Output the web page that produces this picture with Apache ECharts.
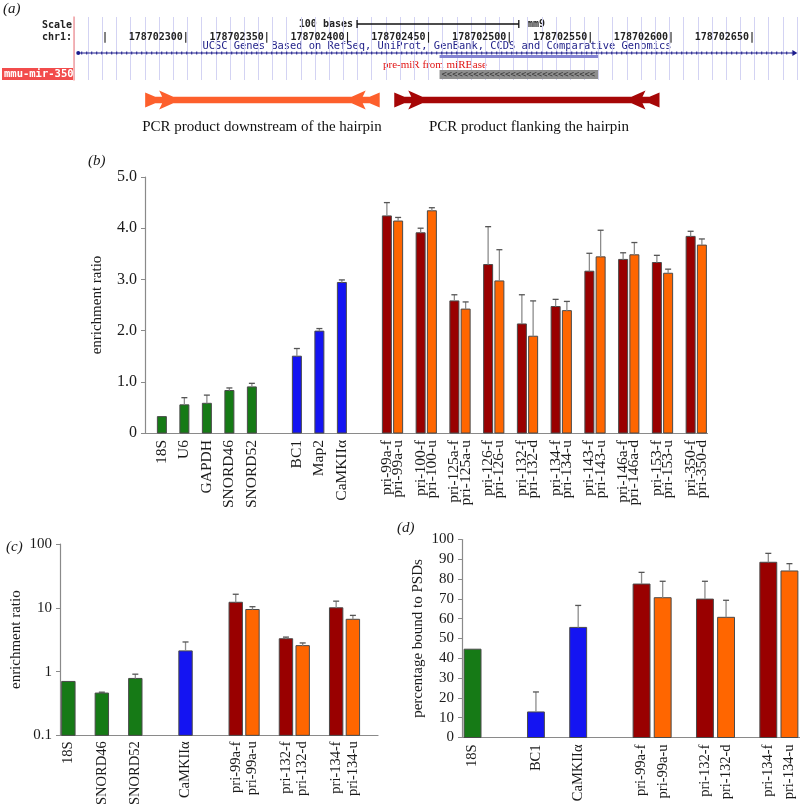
<!DOCTYPE html>
<html>
<head>
<meta charset="utf-8">
<script src="https://cdn.jsdelivr.net/npm/echarts@6/dist/echarts.min.js"></script>
<style>
  html, body { margin: 0; padding: 0; background: #fff; }
  #chart { width: 800px; height: 808px; }
</style>
</head>
<body>
<div id="chart"></div>
<script>
"use strict";

// (a) genome browser window, mm9 chr1
const genomeMin = 178702229;
const genomeMax = 178702676;
const scaleBar = [178702404, 178702504];
const geneSpan = [178702231, 178702675];
const hairpin = [178702455, 178702553];
const pcrProducts = [
  [178702273, 178702418, 0],   // downstream of the hairpin
  [178702427, 178702591, 1]    // flanking the hairpin
];
const pcrNames = ['PCR product downstream of the hairpin', 'PCR product flanking the hairpin'];

// (b) enrichment ratio
const bLabels = ['18S', 'U6', 'GAPDH', 'SNORD46', 'SNORD52', 'BC1', 'Map2', 'CaMKIIα',
  'pri-99a-f', 'pri-99a-u', 'pri-100-f', 'pri-100-u', 'pri-125a-f', 'pri-125a-u',
  'pri-126-f', 'pri-126-u', 'pri-132-f', 'pri-132-d', 'pri-134-f', 'pri-134-u',
  'pri-143-f', 'pri-143-u', 'pri-146a-f', 'pri-146a-d', 'pri-153-f', 'pri-153-u',
  'pri-350-f', 'pri-350-d'];
const bGroups = ['ctl', 'ctl', 'ctl', 'ctl', 'ctl', 'neu', 'neu', 'neu',
  'f', 'u', 'f', 'u', 'f', 'u', 'f', 'u', 'f', 'u', 'f', 'u', 'f', 'u', 'f', 'u', 'f', 'u', 'f', 'u'];
const bValues = [0.32, 0.55, 0.58, 0.83, 0.90, 1.50, 1.99, 2.94,
  4.24, 4.14, 3.91, 4.34, 2.58, 2.42, 3.29, 2.97, 2.13, 1.89, 2.47, 2.39,
  3.16, 3.44, 3.39, 3.48, 3.33, 3.12, 3.84, 3.67];
const bErrors = [0, 0.14, 0.16, 0.05, 0.07, 0.15, 0.05, 0.05,
  0.26, 0.07, 0.09, 0.06, 0.12, 0.14, 0.74, 0.61, 0.57, 0.69, 0.14, 0.18,
  0.35, 0.52, 0.13, 0.24, 0.14, 0.08, 0.10, 0.12];
const bTicks = [0, 1, 2, 3, 4, 5];

// (c) enrichment ratio, log scale
const cLabels = ['18S', 'SNORD46', 'SNORD52', 'CaMKIIα', 'pri-99a-f', 'pri-99a-u',
  'pri-132-f', 'pri-132-d', 'pri-134-f', 'pri-134-u'];
const cGroups = ['ctl', 'ctl', 'ctl', 'neu', 'f', 'u', 'f', 'u', 'f', 'u'];
const cValues = [0.70, 0.46, 0.78, 2.11, 12.2, 9.4, 3.27, 2.55, 10.0, 6.6];
const cErrors = [0, 0.015, 0.13, 0.8, 4.1, 1.0, 0.2, 0.26, 2.7, 1.0];

// (d) percentage bound to PSDs
const dLabels = ['18S', 'BC1', 'CaMKIIα', 'pri-99a-f', 'pri-99a-u', 'pri-132-f', 'pri-132-d', 'pri-134-f', 'pri-134-u'];
const dGroups = ['ctl', 'neu', 'neu', 'f', 'u', 'f', 'u', 'f', 'u'];
const dValues = [44.6, 12.9, 55.6, 77.5, 70.6, 69.9, 60.7, 88.5, 84.1];
const dErrors = [0, 10.1, 11.1, 5.9, 8.3, 9.0, 8.6, 4.5, 3.7];

const groupIdx = { ctl: 0, neu: 1, f: 2, u: 3 };
const barColors = ['#167a16', '#1414f2', '#990000', '#ff6600'];
const arrowColors = ['#fd5f2c', '#a60606'];
const serif = 'Liberation Serif';
const mono = 'DejaVu Sans Mono';

// slot positions on the category axis: pairs touch, groups get a gap
function layoutSlots(groups, start, groupGap) {
  const fam = g => (g === 'f' || g === 'u') ? 'pri' : g;
  const slots = [start];
  for (let i = 1; i < groups.length; i++) {
    const p = groups[i - 1], c = groups[i];
    let step = 2;
    if (fam(p) !== fam(c)) step = groupGap;
    else if (p === 'f' && c === 'u') step = 1;
    slots.push(slots[i - 1] + step);
  }
  return slots;
}
function buildPanel(labels, groups, values, errors, start, groupGap, trailing) {
  const slots = layoutSlots(groups, start, groupGap);
  const n = slots[slots.length - 1] + 1 + trailing;
  const cats = new Array(n).fill('');
  slots.forEach((s, i) => { cats[s] = labels[i]; });
  const data = slots.map((s, i) => [s, values[i], errors[i], groupIdx[groups[i]]]);
  return { cats, data };
}
const panelB = buildPanel(bLabels, bGroups, bValues, bErrors, 1, 4, 0);
const panelC = buildPanel(cLabels, cGroups, cValues, cErrors, 0, 3, 1);
const panelD = buildPanel(dLabels, dGroups, dValues, dErrors, 0, 3, 0);

function barRenderer(base) {
  return function (params, api) {
    const slot = api.value(0), v = api.value(1), e = api.value(2), g = api.value(3);
    const bw = api.size([1, 0])[0] * 0.8;
    const p0 = api.coord([slot, base]);
    const p1 = api.coord([slot, v]);
    const children = [{
      type: 'rect',
      shape: { x: p1[0] - bw / 2, y: p1[1], width: bw, height: p0[1] - p1[1] },
      style: { fill: barColors[g], stroke: '#4a4a4a', lineWidth: 1 }
    }];
    if (e > 0) {
      const p2 = api.coord([slot, v + e]);
      children.push({ type: 'line', shape: { x1: p1[0], y1: p1[1], x2: p2[0], y2: p2[1] },
        style: { stroke: '#8c8c8c', lineWidth: 1.3 } });
      children.push({ type: 'line', shape: { x1: p2[0] - 3, y1: p2[1], x2: p2[0] + 3, y2: p2[1] },
        style: { stroke: '#555', lineWidth: 1.3 } });
    }
    return { type: 'group', children };
  };
}

function catAxis(gridIndex, cats, fontSize, margin) {
  return {
    type: 'category', gridIndex, data: cats,
    axisLine: { lineStyle: { color: '#8a8a8a', width: 1.2 } },
    axisTick: { show: false },
    axisLabel: { interval: 0, rotate: 90, margin, fontFamily: serif, fontSize, color: '#1a1a1a' },
    splitLine: { show: false }
  };
}
function valAxis(gridIndex, extra) {
  return Object.assign({
    gridIndex,
    nameLocation: 'middle',
    nameTextStyle: { fontFamily: serif, fontSize: 15, color: '#1a1a1a' },
    axisLine: { show: true, lineStyle: { color: '#8a8a8a', width: 1.2 } },
    axisTick: { show: true, length: 4, lineStyle: { color: '#8a8a8a' } },
    axisLabel: { fontFamily: serif, fontSize: 15, color: '#1a1a1a', margin: 8 },
    splitLine: { show: false }
  }, extra);
}

// lanes of the browser image (rows from its top edge)
const laneScale = 7, laneGene = 36, laneBlue = [38, 41], laneGrey = [53, 62];

const chart = echarts.init(document.getElementById('chart'), null, { renderer: 'canvas' });

const option = {
  animation: false,
  backgroundColor: '#fff',
  grid: [
    { left: 74, top: 17, width: 723, height: 63 },     // browser tracks
    { left: 74, top: 17, width: 723, height: 14 },     // coordinate labels
    { left: 74, top: 85, width: 723, height: 30 },     // PCR arrows
    { left: 145, top: 177, width: 562.5, height: 256 },
    { left: 60, top: 544, width: 318, height: 193.5 },
    { left: 462, top: 539.5, width: 338, height: 198 }
  ],
  xAxis: [
    { type: 'value', gridIndex: 0, min: genomeMin, max: genomeMax, show: false },
    { type: 'value', gridIndex: 0, min: 0, max: 51, interval: 1,
      axisLine: { show: false }, axisTick: { show: false }, axisLabel: { show: false },
      splitLine: { show: true, lineStyle: { color: '#d3d3f3', width: 1 } } },
    { type: 'value', gridIndex: 1, min: genomeMin, max: genomeMax, minInterval: 50, maxInterval: 50,
      axisLine: { show: false }, axisTick: { show: false }, splitLine: { show: false },
      axisLabel: {
        margin: 1, align: 'right', fontFamily: mono, fontSize: 10, fontWeight: 'bold', color: '#222',
        formatter: v => {
          const r = Math.round(v);
          if (r % 50 !== 0) return '';
          return (r - genomeMin < 40) ? '|' : r + '|';
        }
      } },
    { type: 'value', gridIndex: 2, min: genomeMin, max: genomeMax, show: false },
    catAxis(3, panelB.cats, 15.5, 7),
    catAxis(4, panelC.cats, 14.5, 6),
    catAxis(5, panelD.cats, 14.5, 7)
  ],
  yAxis: [
    { type: 'value', gridIndex: 0, min: 0, max: 63, inverse: true,
      axisLine: { show: true, lineStyle: { color: '#f4a0a0', width: 1.5 } },
      axisTick: { show: false }, axisLabel: { show: false }, splitLine: { show: false } },
    { type: 'value', gridIndex: 1, show: false },
    { type: 'value', gridIndex: 2, min: 0, max: 1, show: false },
    valAxis(3, { type: 'value', min: bTicks[0], max: bTicks[bTicks.length - 1], interval: 1,
      name: 'enrichment ratio', nameGap: 40,
      axisLabel: { fontFamily: serif, fontSize: 16, color: '#1a1a1a', margin: 8,
        formatter: v => v === 0 ? '0' : v.toFixed(1) } }),
    valAxis(4, { type: 'log', logBase: 10, min: 0.1, max: 100,
      name: 'enrichment ratio', nameGap: 36,
      axisLabel: { fontFamily: serif, fontSize: 15, color: '#1a1a1a', margin: 8,
        formatter: v => String(+v.toPrecision(3)) } }),
    valAxis(5, { type: 'value', min: 0, max: 100, interval: 10,
      name: 'percentage bound to PSDs', nameGap: 36 })
  ],
  series: [
    { // scale bar
      type: 'custom', xAxisIndex: 0, yAxisIndex: 0, data: [scaleBar],
      renderItem: (params, api) => {
        const a = api.coord([api.value(0), laneScale]);
        const b = api.coord([api.value(1), laneScale]);
        const st = { stroke: '#111', lineWidth: 1.3 };
        return { type: 'group', children: [
          { type: 'line', shape: { x1: a[0], y1: a[1], x2: b[0], y2: b[1] }, style: st },
          { type: 'line', shape: { x1: a[0], y1: a[1] - 4, x2: a[0], y2: a[1] + 4 }, style: st },
          { type: 'line', shape: { x1: b[0], y1: b[1] - 4, x2: b[0], y2: b[1] + 4 }, style: st }
        ] };
      }
    },
    { // UCSC gene line
      type: 'custom', xAxisIndex: 0, yAxisIndex: 0, data: [geneSpan],
      renderItem: (params, api) => {
        const a = api.coord([api.value(0), laneGene]);
        const b = api.coord([api.value(1), laneGene]);
        const c = '#1c1c8c';
        return { type: 'group', children: [
          { type: 'line', shape: { x1: a[0], y1: a[1], x2: b[0], y2: b[1] }, style: { stroke: c, lineWidth: 1 } },
          { type: 'line', shape: { x1: a[0] + 4, y1: a[1], x2: b[0] - 4, y2: b[1] },
            style: { stroke: c, lineWidth: 3, lineDash: [1, 4] } },
          { type: 'circle', shape: { cx: a[0] + 1, cy: a[1], r: 2 }, style: { fill: c } },
          { type: 'polygon', shape: { points: [[b[0] + 2, b[1]], [b[0] - 3, b[1] - 3], [b[0] - 3, b[1] + 3]] }, style: { fill: c } }
        ] };
      }
    },
    { // pre-miR from miRBase
      type: 'custom', xAxisIndex: 0, yAxisIndex: 0, data: [hairpin],
      renderItem: (params, api) => {
        const a = api.coord([api.value(0), laneBlue[0]]);
        const b = api.coord([api.value(1), laneBlue[1]]);
        const g0 = api.coord([api.value(0), laneGrey[0]]);
        const g1 = api.coord([api.value(1), laneGrey[1]]);
        const w = g1[0] - g0[0];
        const n = Math.floor((w - 2) / 5.3);
        return { type: 'group', children: [
          { type: 'rect', shape: { x: a[0], y: a[1], width: b[0] - a[0], height: b[1] - a[1] }, style: { fill: '#8484d2' } },
          { type: 'rect', shape: { x: g0[0], y: g0[1], width: w, height: g1[1] - g0[1] }, style: { fill: '#8e8e8e' } },
          { type: 'text', style: { text: '<'.repeat(n), x: g0[0] + 2, y: (g0[1] + g1[1]) / 2 + 0.5,
            verticalAlign: 'middle', font: '8.8px ' + mono, fill: '#3a3a3a' } }
        ] };
      }
    },
    { // PCR products
      type: 'custom', xAxisIndex: 3, yAxisIndex: 2, data: pcrProducts,
      renderItem: (params, api) => {
        const a = api.coord([api.value(0), 0.5]);
        const b = api.coord([api.value(1), 0.5]);
        const x0 = a[0], x1 = b[0], c = a[1];
        const h = 3.3, F = 7.5, A = 9.5;
        const top = [[x0, c - F], [x0 + 10, c - h], [x0 + 17, c - h], [x0 + 14, c - A], [x0 + 28, c - h],
          [x1 - 28, c - h], [x1 - 14, c - A], [x1 - 17, c - h], [x1 - 10, c - h], [x1, c - F]];
        const bottom = top.slice().reverse().map(p => [p[0], 2 * c - p[1]]);
        return { type: 'polygon', shape: { points: top.concat(bottom) },
          style: { fill: arrowColors[api.value(2)] } };
      }
    },
    { type: 'custom', xAxisIndex: 4, yAxisIndex: 3, data: panelB.data, renderItem: barRenderer(0) },
    { type: 'custom', xAxisIndex: 5, yAxisIndex: 4, data: panelC.data, renderItem: barRenderer(0.1) },
    { type: 'custom', xAxisIndex: 6, yAxisIndex: 5, data: panelD.data, renderItem: barRenderer(0) }
  ],
  graphic: [
    { type: 'text', left: 3, top: 2, style: { text: '(a)', font: 'italic 15px ' + serif, fill: '#1a1a1a' } },
    { type: 'text', left: 88, top: 154, style: { text: '(b)', font: 'italic 15px ' + serif, fill: '#1a1a1a' } },
    { type: 'text', left: 6, top: 540, style: { text: '(c)', font: 'italic 15px ' + serif, fill: '#1a1a1a' } },
    { type: 'text', left: 397, top: 521, style: { text: '(d)', font: 'italic 15px ' + serif, fill: '#1a1a1a' } },
    { type: 'text', x: 72, y: 25, style: { text: 'Scale', font: 'bold 10px ' + mono, fill: '#222', align: 'right', verticalAlign: 'middle' } },
    { type: 'text', x: 72, y: 37, style: { text: 'chr1:', font: 'bold 10px ' + mono, fill: '#222', align: 'right', verticalAlign: 'middle' } },
    { type: 'rect', shape: { x: 2, y: 68, width: 71, height: 12 }, style: { fill: '#f24c4c' } },
    { type: 'text', x: 4, y: 74.5, style: { text: 'mmu-mir-350', font: 'bold 10.5px ' + mono, fill: '#fff', verticalAlign: 'middle' } },
    { type: 'text', x: 353, y: 24, style: { text: '100 bases', font: 'bold 10px ' + mono, fill: '#222', align: 'right', verticalAlign: 'middle' } },
    { type: 'text', x: 527, y: 24, style: { text: 'mm9', font: 'bold 10px ' + mono, fill: '#222', verticalAlign: 'middle' } },
    { type: 'text', x: 437, y: 46, style: { text: 'UCSC Genes Based on RefSeq, UniProt, GenBank, CCDS and Comparative Genomics',
      font: '10.4px ' + mono, fill: '#1e1e88', align: 'center', verticalAlign: 'middle' } },
    { type: 'text', x: 383, y: 65, style: { text: 'pre-miR from miRBase', font: '11px ' + serif, fill: '#e01414', verticalAlign: 'middle' } },
    { type: 'text', x: 262, y: 127, style: { text: pcrNames[0], font: '15px ' + serif, fill: '#111', align: 'center', verticalAlign: 'middle' } },
    { type: 'text', x: 529, y: 127, style: { text: pcrNames[1], font: '15px ' + serif, fill: '#111', align: 'center', verticalAlign: 'middle' } }
  ]
};

chart.setOption(option);
</script>
</body>
</html>
